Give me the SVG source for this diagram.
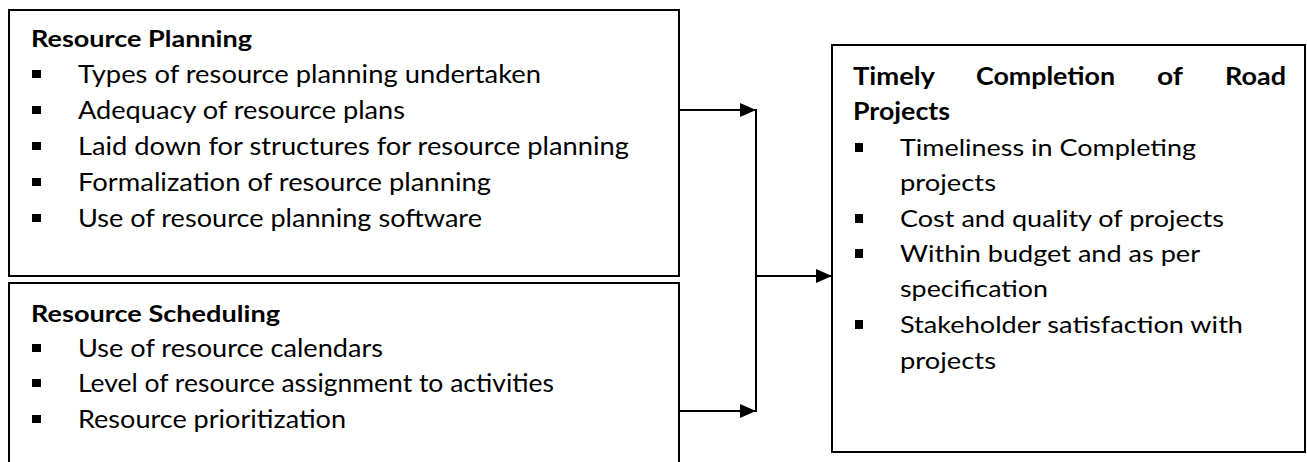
<svg xmlns="http://www.w3.org/2000/svg" width="1307" height="462" viewBox="0 0 1307 462">
<style>
.box{fill:#fff;stroke:#000;stroke-width:2}
.t{font-family:Lato,"Liberation Sans",sans-serif;fill:#000}
.h{font-weight:bold;font-size:22px}
.hr{font-weight:bold;font-size:25px}
.i{font-size:25px}
.ir{font-size:24px}
.b{fill:#000}
.c{stroke:#000;stroke-width:2;fill:none}
</style>
<defs>
<marker id="ah" markerUnits="userSpaceOnUse" markerWidth="18" markerHeight="14" refX="16" refY="7" orient="auto">
<path d="M0,0 L16,7 L0,14 Z" fill="#000"/>
</marker>
</defs>
<rect width="1307" height="462" fill="#fff"/>
<g id="resource-planning">
<rect class="box" x="9" y="10" width="670" height="266"/>
<text class="t h" x="31" y="47" textLength="221" lengthAdjust="spacingAndGlyphs">Resource Planning</text>
<rect class="b" x="32" y="70" width="9" height="8"/>
<text class="t i" x="78" y="83" textLength="463" lengthAdjust="spacingAndGlyphs">Types of resource planning undertaken</text>
<rect class="b" x="32" y="106" width="9" height="8"/>
<text class="t i" x="78" y="119" textLength="327" lengthAdjust="spacingAndGlyphs">Adequacy of resource plans</text>
<rect class="b" x="32" y="142" width="9" height="8"/>
<text class="t i" x="78" y="155" textLength="551" lengthAdjust="spacingAndGlyphs">Laid down for structures for resource planning</text>
<rect class="b" x="32" y="178" width="9" height="8"/>
<text class="t i" x="78" y="191" textLength="413" lengthAdjust="spacingAndGlyphs">Formalization of resource planning</text>
<rect class="b" x="32" y="214" width="9" height="8"/>
<text class="t i" x="78" y="227" textLength="404" lengthAdjust="spacingAndGlyphs">Use of resource planning software</text>
</g>
<g id="resource-scheduling">
<rect class="box" x="9" y="283" width="670" height="200"/>
<text class="t h" x="31" y="322" textLength="249" lengthAdjust="spacingAndGlyphs">Resource Scheduling</text>
<rect class="b" x="32" y="344" width="9" height="8"/>
<text class="t i" x="78" y="357" textLength="305" lengthAdjust="spacingAndGlyphs">Use of resource calendars</text>
<rect class="b" x="32" y="379" width="9" height="8"/>
<text class="t i" x="78" y="392" textLength="476" lengthAdjust="spacingAndGlyphs">Level of resource assignment to activities</text>
<rect class="b" x="32" y="415" width="9" height="8"/>
<text class="t i" x="78" y="428" textLength="268" lengthAdjust="spacingAndGlyphs">Resource prioritization</text>
</g>
<g id="timely-completion">
<rect class="box" x="832" y="45" width="473" height="407"/>
<text class="t hr" x="853" y="85" textLength="82" lengthAdjust="spacingAndGlyphs">Timely</text>
<text class="t hr" x="976" y="85" textLength="139" lengthAdjust="spacingAndGlyphs">Completion</text>
<text class="t hr" x="1157" y="85" textLength="26" lengthAdjust="spacingAndGlyphs">of</text>
<text class="t hr" x="1225" y="85" textLength="61" lengthAdjust="spacingAndGlyphs">Road</text>
<text class="t hr" x="853" y="120" textLength="97" lengthAdjust="spacingAndGlyphs">Projects</text>
<rect class="b" x="855" y="143" width="8" height="9"/>
<text class="t ir" x="900" y="156" textLength="296" lengthAdjust="spacingAndGlyphs">Timeliness in Completing</text>
<text class="t ir" x="900" y="191" textLength="96" lengthAdjust="spacingAndGlyphs">projects</text>
<rect class="b" x="855" y="214" width="8" height="9"/>
<text class="t ir" x="900" y="227" textLength="324" lengthAdjust="spacingAndGlyphs">Cost and quality of projects</text>
<rect class="b" x="855" y="249" width="8" height="9"/>
<text class="t ir" x="900" y="262" textLength="300" lengthAdjust="spacingAndGlyphs">Within budget and as per</text>
<text class="t ir" x="900" y="297" textLength="148" lengthAdjust="spacingAndGlyphs">specification</text>
<rect class="b" x="855" y="320" width="8" height="9"/>
<text class="t ir" x="900" y="333" textLength="343" lengthAdjust="spacingAndGlyphs">Stakeholder satisfaction with</text>
<text class="t ir" x="900" y="369" textLength="96" lengthAdjust="spacingAndGlyphs">projects</text>
</g>
<g id="connectors">
<line class="c" x1="679" y1="110" x2="756" y2="110" marker-end="url(#ah)"/>
<line class="c" x1="679" y1="411" x2="756" y2="411" marker-end="url(#ah)"/>
<line class="c" x1="756" y1="109" x2="756" y2="412"/>
<line class="c" x1="756" y1="276" x2="832" y2="276" marker-end="url(#ah)"/>
</g>
</svg>
